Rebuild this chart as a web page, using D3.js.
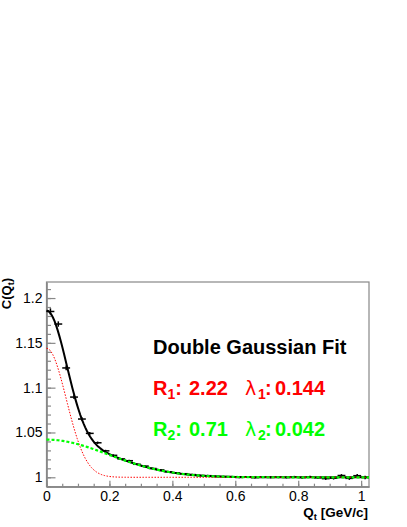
<!DOCTYPE html>
<html lang="en">
<head>
<meta charset="UTF-8">
<title>Double Gaussian Fit</title>
<style>
    body {
        margin: 0;
        padding: 0;
        background: #ffffff;
    }
    svg text {
        font-family: "Liberation Sans", Arial, sans-serif;
    }
</style>
</head>
<body>
<svg id="chart" width="407" height="527"></svg>

<script src="https://d3js.org/d3.v7.min.js"></script>
<script>
    // bin centres (bin width 0.025 GeV/c) and measured correlation values
    var binWidth = 0.025;
    var qCenters = [
        0.0125, 0.0375, 0.0625, 0.0875, 0.1125, 0.1375, 0.1625, 0.1875,
        0.2125, 0.2375, 0.2625, 0.2875, 0.3125, 0.3375, 0.3625, 0.3875,
        0.4125, 0.4375, 0.4625, 0.4875, 0.5125, 0.5375, 0.5625, 0.5875,
        0.6125, 0.6375, 0.6625, 0.6875, 0.7125, 0.7375, 0.7625, 0.7875,
        0.8125, 0.8375, 0.8625, 0.8875, 0.9125, 0.9375, 0.9625, 0.9875,
        1.0125
    ];
    var cValues = [
        1.185, 1.171, 1.122, 1.0895, 1.065, 1.049, 1.0385, 1.0295,
        1.0245, 1.0205, 1.0185, 1.0145, 1.0125, 1.0098, 1.0082, 1.0062,
        1.0050, 1.0040, 1.0030, 1.0020, 1.0018, 1.0010, 1.0008, 1.0004,
        0.9998, 1.0003, 0.9997, 1.0002, 0.9999, 1.0001, 0.9998, 1.0004,
        0.9997, 1.0005, 0.9994, 0.9985, 0.9990, 1.0020, 0.9988, 1.0018,
        0.9998
    ];
    var cErrors = [
        0.0035, 0.0030, 0.0026, 0.0022, 0.0019, 0.0016, 0.0014, 0.0012,
        0.0011, 0.0010, 0.0010, 0.0009, 0.0009, 0.0009, 0.0009, 0.0009,
        0.0009, 0.0009, 0.0009, 0.0009, 0.0009, 0.0009, 0.0009, 0.0010,
        0.0010, 0.0010, 0.0010, 0.0010, 0.0011, 0.0011, 0.0011, 0.0012,
        0.0012, 0.0013, 0.0013, 0.0014, 0.0015, 0.0016, 0.0017, 0.0018,
        0.0019
    ];

    // fit parameters shown in the legend (R in fm)
    var fitR = [2.22, 0.71];
    var fitLambda = [0.144, 0.042];
    var hbarc = 0.1973;

    var xTicks = [0, 0.2, 0.4, 0.6, 0.8, 1];
    var xTickLabels = ["0", "0.2", "0.4", "0.6", "0.8", "1"];
    var yTicks = [1, 1.05, 1.1, 1.15, 1.2];
    var yTickLabels = ["1", "1.05", "1.1", "1.15", "1.2"];

    var frame = {left: 46.5, right: 369, top: 282, bottom: 486.7};

    var svg = d3.select("#chart");

    var x = d3.scaleLinear()
        .domain([0, 1.025])
        .range([frame.left, frame.right]);
    var y = d3.scaleLinear()
        .domain([0.9895, 1.2179])
        .range([frame.bottom, frame.top]);

    var axisColor = "#888888";

    // frame
    svg.append("rect")
        .attr("x", frame.left)
        .attr("y", frame.top)
        .attr("width", frame.right - frame.left)
        .attr("height", frame.bottom - frame.top)
        .attr("fill", "none")
        .attr("stroke", axisColor)
        .attr("stroke-width", 1.2);

    // y axis: minor then major ticks, pointing inside the frame
    var yMinor = svg.append("g")
        .attr("transform", "translate(" + frame.left + ",0)")
        .call(d3.axisLeft(y)
            .tickValues(d3.range(0.99, 1.215, 0.01))
            .tickSize(-4.5)
            .tickSizeOuter(0)
            .tickFormat(""));
    var yMajor = svg.append("g")
        .attr("transform", "translate(" + frame.left + ",0)")
        .call(d3.axisLeft(y)
            .tickValues(yTicks)
            .tickSize(-9)
            .tickSizeOuter(0)
            .tickPadding(4)
            .tickFormat(function (d, i) { return yTickLabels[i]; }));

    var xMinor = svg.append("g")
        .attr("transform", "translate(0," + frame.bottom + ")")
        .call(d3.axisBottom(x)
            .tickValues(d3.range(0, 1.03, 0.05))
            .tickSize(-3)
            .tickSizeOuter(0)
            .tickFormat(""));
    var xMajor = svg.append("g")
        .attr("transform", "translate(0," + frame.bottom + ")")
        .call(d3.axisBottom(x)
            .tickValues(xTicks)
            .tickSize(-6)
            .tickSizeOuter(0)
            .tickPadding(4)
            .tickFormat(function (d, i) { return xTickLabels[i]; }));

    [yMinor, yMajor, xMinor, xMajor].forEach(function (g) {
        g.select(".domain").attr("stroke", axisColor).attr("stroke-width", 1.2);
        g.selectAll(".tick line").attr("stroke", axisColor).attr("stroke-width", 1.2);
        g.selectAll(".tick text")
            .attr("fill", "#000")
            .style("font-size", "14px")
            .style("font-family", "'Liberation Sans', Arial, sans-serif");
    });

    // axis titles
    svg.append("text")
        .attr("transform", "translate(11," + (frame.top - 4) + ") rotate(-90)")
        .attr("text-anchor", "end")
        .style("font-size", "13px")
        .style("font-weight", "bold")
        .html('C(Q<tspan font-size="9" dy="3">t</tspan><tspan dy="-3">)</tspan>');

    svg.append("text")
        .attr("x", frame.right - 1)
        .attr("y", 517)
        .attr("text-anchor", "end")
        .style("font-size", "13.5px")
        .style("font-weight", "bold")
        .html('Q<tspan font-size="9.5" dy="3">t</tspan><tspan dy="-3"> [GeV/c]</tspan>');

    // fit components
    function gauss(q, k) {
        var r = fitR[k] / hbarc;
        return fitLambda[k] * Math.exp(-r * r * q * q);
    }
    var qGrid = d3.range(0, 201).map(function (i) { return i * 1.025 / 200; });

    var line = d3.line()
        .x(function (d) { return x(d[0]); })
        .y(function (d) { return y(d[1]); });

    var plot = svg.append("g");

    // data points with error bars
    var pts = plot.selectAll(".pt")
        .data(qCenters.map(function (q, i) { return {q: q, c: cValues[i], e: cErrors[i]}; }))
        .enter().append("g").attr("class", "pt");
    pts.append("line")
        .attr("x1", function (d) { return x(d.q - binWidth / 2); })
        .attr("x2", function (d) { return x(d.q + binWidth / 2); })
        .attr("y1", function (d) { return y(d.c); })
        .attr("y2", function (d) { return y(d.c); })
        .attr("stroke", "#000")
        .attr("stroke-width", 1.5);
    pts.append("line")
        .attr("x1", function (d) { return x(d.q); })
        .attr("x2", function (d) { return x(d.q); })
        .attr("y1", function (d) { return y(d.c - d.e); })
        .attr("y2", function (d) { return y(d.c + d.e); })
        .attr("stroke", "#000")
        .attr("stroke-width", 1.5);

    // total fit
    plot.append("path")
        .datum(qGrid.map(function (q) { return [q, 1 + gauss(q, 0) + gauss(q, 1)]; }))
        .attr("d", line)
        .attr("fill", "none")
        .attr("stroke", "#000")
        .attr("stroke-width", 2);

    // first gaussian (red, dotted)
    plot.append("path")
        .datum(qGrid.map(function (q) { return [q, 1 + gauss(q, 0)]; }))
        .attr("d", line)
        .attr("fill", "none")
        .attr("stroke", "#ff0000")
        .attr("stroke-width", 1)
        .attr("stroke-dasharray", "1.5,1.5");

    // second gaussian (green, dotted, thicker)
    plot.append("path")
        .datum(qGrid.map(function (q) { return [q, 1 + gauss(q, 1)]; }))
        .attr("d", line)
        .attr("fill", "none")
        .attr("stroke", "#00ff00")
        .attr("stroke-width", 2.2)
        .attr("stroke-dasharray", "3,2");

    // legend text
    svg.append("text")
        .attr("x", 153)
        .attr("y", 354)
        .style("font-size", "20px")
        .style("font-weight", "bold")
        .text("Double Gaussian Fit");

    var rows = [
        {y: 395, color: "#ff0000", idx: "1", r: "2.22", l: "0.144"},
        {y: 436, color: "#00ff00", idx: "2", r: "0.71", l: "0.042"}
    ];
    rows.forEach(function (row) {
        var t = svg.append("text")
            .attr("y", row.y)
            .attr("fill", row.color)
            .style("font-size", "20px")
            .style("font-weight", "bold");
        t.append("tspan").attr("x", 153).text("R");
        t.append("tspan").attr("dy", 4).style("font-size", "14px").text(row.idx);
        t.append("tspan").attr("dy", -4).text(":");
        t.append("tspan").attr("x", 189).text(row.r);
        t.append("tspan").attr("x", 245).style("font-weight", "normal")
            .style("font-family", "'DejaVu Sans', sans-serif").style("font-size", "19px").text("\u03bb");
        t.append("tspan").attr("x", 258).attr("dy", 4).style("font-size", "14px").text(row.idx);
        t.append("tspan").attr("x", 265).attr("dy", -4).text(":");
        t.append("tspan").attr("x", 275).text(row.l);
    });
</script>
</body>
</html>
